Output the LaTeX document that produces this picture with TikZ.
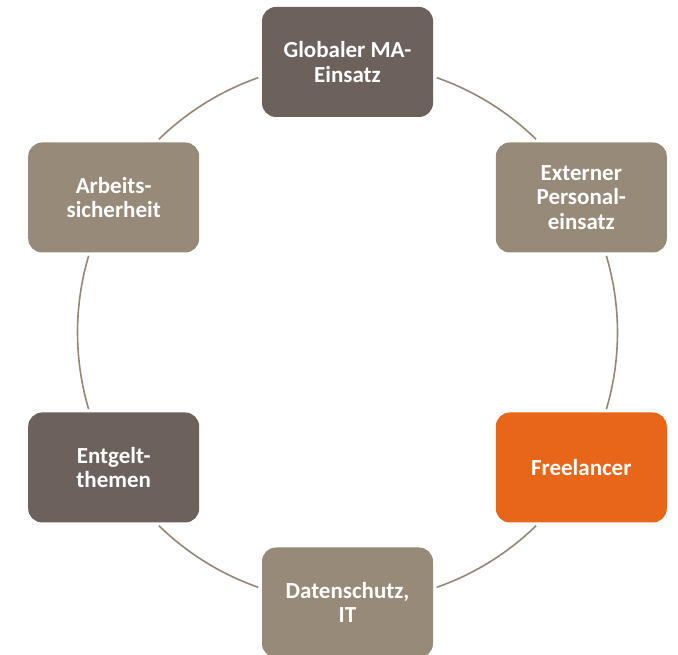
\documentclass[tikz,border=0pt]{standalone}
\usepackage{fontspec}
\setmainfont{Carlito}
\definecolor{darkbox}{HTML}{6C615B}
\definecolor{tanbox}{HTML}{978A79}
\definecolor{orangebox}{HTML}{E8661A}
\definecolor{ringline}{HTML}{958775}
\begin{document}
\begin{tikzpicture}[x=1pt,y=1pt,
  cyclebox/.style={rounded corners=14pt, minimum width=171pt, minimum height=110pt,
    text=white, align=center, inner sep=0pt,
    font=\fontsize{23}{24.5}\selectfont\bfseries},
  ring/.style={draw=ringline, line width=1.6pt}]
\useasboundingbox (0,0) rectangle (678,655);
\coordinate (c) at (347.5,322.5);
% arcs
\foreach \a/\b in {109.3/134.3, 163.5/196.5, 225.7/250.7, 289.3/314.3, 343.5/376.5, 45.7/70.7}{
  \draw[ring] ([shift={(\a:270)}]c) arc[start angle=\a, end angle=\b, radius=270];
}
\node[cyclebox, fill=darkbox] (glob) at (347.5,593) {Globaler MA-\\Einsatz};
\node[cyclebox, fill=tanbox] (ext) at (581.3,457.5) {Externer\\Personal-\\einsatz};
\node[cyclebox, fill=orangebox] (free) at (581.3,187.5) {Freelancer};
\node[cyclebox, fill=tanbox] (daten) at (347.5,52.5) {Datenschutz,\\IT};
\node[cyclebox, fill=darkbox] (entg) at (113.7,187.5) {Entgelt-\\themen};
\node[cyclebox, fill=tanbox] (arb) at (113.7,457.5) {Arbeits-\\sicherheit};
\end{tikzpicture}
\end{document}
